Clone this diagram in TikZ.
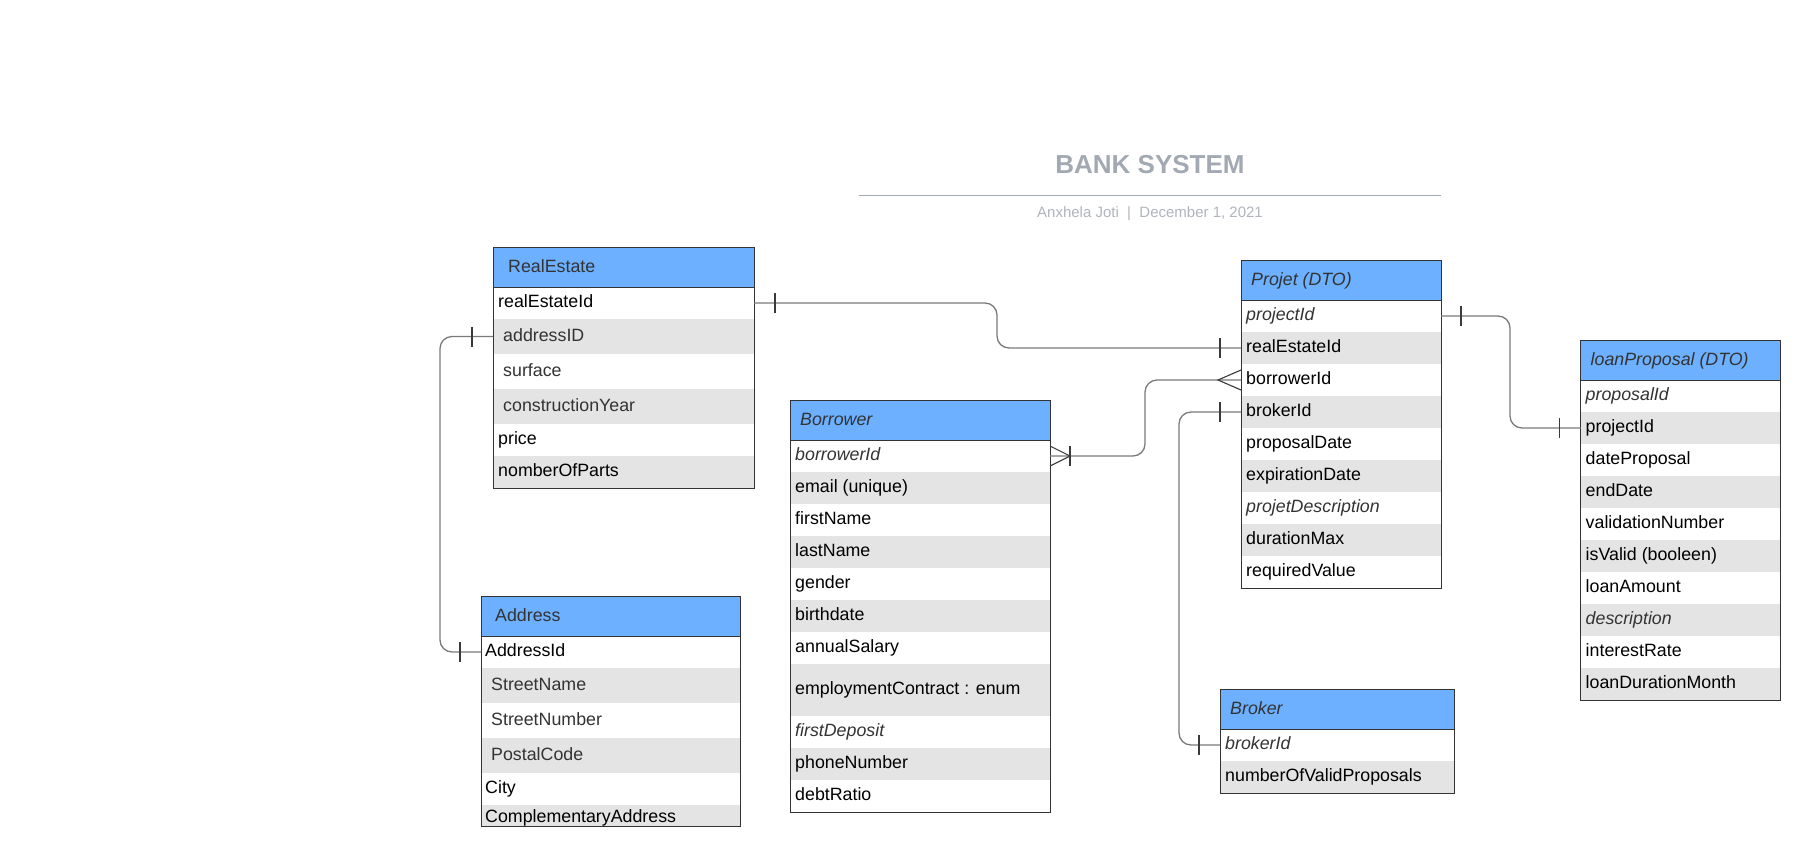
\documentclass[tikz,border=0pt]{standalone}
\usepackage{fontspec}
\setmainfont{Liberation Sans}
\usetikzlibrary{calc}
\definecolor{hdr}{HTML}{6CB0FF}
\definecolor{rowg}{HTML}{E4E4E4}
\definecolor{bord}{HTML}{333333}
\definecolor{dtxt}{HTML}{333333}
\definecolor{connc}{HTML}{7A7A7A}
\definecolor{tickc}{HTML}{3A3A3A}
\definecolor{ttl}{HTML}{A3A9B3}
\definecolor{subc}{HTML}{B0B5BD}
\newcommand\rowfont{\fontsize{17.8}{21}\selectfont}
\newcommand\erow[9]{%
  \node[#6, minimum width=#4pt, minimum height=#5pt] (#1) at (#2,#3) {};
  \node[#7] (#1t) at ([xshift=#8pt, yshift=-4.8pt]#1.west) {#9};
}
\tikzset{
  cellw/.style={draw=none, fill=white, anchor=north west, inner sep=0pt, outer sep=0pt},
  cellg/.style={cellw, fill=rowg},
  hcell/.style={anchor=north west, inner sep=0pt, outer sep=0pt, fill=hdr, draw=none, minimum height=40pt},
  rtxt/.style={anchor=base west, inner sep=0pt, font=\rowfont, text=black},
  gtxt/.style={rtxt, text=dtxt},
  itxt/.style={rtxt, text=dtxt, font=\rowfont\itshape},
  htxt/.style={anchor=base west, inner sep=0pt, font=\rowfont, text=dtxt},
  hitxt/.style={htxt, font=\rowfont\itshape},
  tbox/.style={draw=bord, line width=1pt},
  connector/.style={draw=connc, line width=1.3pt, rounded corners=12pt},
  tickmark/.style={draw=tickc, line width=1.1pt},
}
\begin{document}
\begin{tikzpicture}[x=1pt, y=-1pt]
\fill[white] (0,0) rectangle (1820,865);
\useasboundingbox (0,0) rectangle (1820,865);

% ---------- title ----------
\node[anchor=base, inner sep=0pt, font=\fontsize{26}{30}\selectfont\bfseries, text=ttl] (title) at (1150,173.3) {BANK SYSTEM};
\coordinate (rl) at (859,195.7);
\coordinate (rr) at (1441,195.7);
\draw[ttl, line width=1.5pt] (rl) -- (rr);
\node[anchor=base, inner sep=0pt, font=\fontsize{15}{18}\selectfont, text=subc] (subt) at (1150,217.3) {Anxhela Joti~~|~~December 1, 2021};

% ---------- RealEstate ----------
\node[hcell, minimum width=261pt] (reh) at (493,247) {};
\node[htxt] (reht) at ([xshift=15pt, yshift=-5.5pt]reh.west) {RealEstate};
\erow{re1}{493}{287}{261}{32}{cellw}{rtxt}{5}{realEstateId}
\erow{re2}{493}{319}{261}{35}{cellg}{gtxt}{10}{addressID}
\erow{re3}{493}{354}{261}{35}{cellw}{gtxt}{10}{surface}
\erow{re4}{493}{389}{261}{35}{cellg}{gtxt}{10}{constructionYear}
\erow{re5}{493}{424}{261}{32}{cellw}{rtxt}{5}{price}
\erow{re6}{493}{456}{261}{32}{cellg}{rtxt}{5}{nomberOfParts}
\draw[tbox] (reh.south west) -- (reh.south east);
\draw[tbox] (reh.north west) rectangle (re6.south east);

% ---------- Address ----------
\node[hcell, minimum width=259pt] (adh) at (481,596) {};
\node[htxt] (adht) at ([xshift=14pt, yshift=-5.5pt]adh.west) {Address};
\erow{ad1}{481}{636}{259}{32}{cellw}{rtxt}{4}{AddressId}
\erow{ad2}{481}{668}{259}{35}{cellg}{gtxt}{10}{StreetName}
\erow{ad3}{481}{703}{259}{35}{cellw}{gtxt}{10}{StreetNumber}
\erow{ad4}{481}{738}{259}{35}{cellg}{gtxt}{10}{PostalCode}
\erow{ad5}{481}{773}{259}{32}{cellw}{rtxt}{4}{City}
\erow{ad6}{481}{805}{259}{21}{cellg}{rtxt, yshift=-2pt}{4}{ComplementaryAddress}
\draw[tbox] (adh.south west) -- (adh.south east);
\draw[tbox] (adh.north west) rectangle (ad6.south east);

% ---------- Borrower ----------
\node[hcell, minimum width=260pt] (boh) at (790,400) {};
\node[hitxt] (boht) at ([xshift=10pt, yshift=-5.5pt]boh.west) {Borrower};
\erow{bo1}{790}{440}{260}{32}{cellw}{itxt}{5}{borrowerId}
\erow{bo2}{790}{472}{260}{32}{cellg}{rtxt}{5}{email (unique)}
\erow{bo3}{790}{504}{260}{32}{cellw}{rtxt}{5}{firstName}
\erow{bo4}{790}{536}{260}{32}{cellg}{rtxt}{5}{lastName}
\erow{bo5}{790}{568}{260}{32}{cellw}{rtxt}{5}{gender}
\erow{bo6}{790}{600}{260}{32}{cellg}{rtxt}{5}{birthdate}
\erow{bo7}{790}{632}{260}{32}{cellw}{rtxt}{5}{annualSalary}
\erow{bo8}{790}{664}{260}{52}{cellg}{rtxt}{5}{employmentContract : enum}
\erow{bo9}{790}{716}{260}{32}{cellw}{itxt}{5}{firstDeposit}
\erow{bo10}{790}{748}{260}{32}{cellg}{rtxt}{5}{phoneNumber}
\erow{bo11}{790}{780}{260}{32}{cellw}{rtxt}{5}{debtRatio}
\draw[tbox] (boh.south west) -- (boh.south east);
\draw[tbox] (boh.north west) rectangle (bo11.south east);

% ---------- Projet (DTO) ----------
\node[hcell, minimum width=200pt] (pjh) at (1241,260) {};
\node[hitxt] (pjht) at ([xshift=10pt, yshift=-5.5pt]pjh.west) {Projet (DTO)};
\erow{pj1}{1241}{300}{200}{32}{cellw}{itxt}{5}{projectId}
\erow{pj2}{1241}{332}{200}{32}{cellg}{rtxt}{5}{realEstateId}
\erow{pj3}{1241}{364}{200}{32}{cellw}{rtxt}{5}{borrowerId}
\erow{pj4}{1241}{396}{200}{32}{cellg}{rtxt}{5}{brokerId}
\erow{pj5}{1241}{428}{200}{32}{cellw}{rtxt}{5}{proposalDate}
\erow{pj6}{1241}{460}{200}{32}{cellg}{rtxt}{5}{expirationDate}
\erow{pj7}{1241}{492}{200}{32}{cellw}{itxt}{5}{projetDescription}
\erow{pj8}{1241}{524}{200}{32}{cellg}{rtxt}{5}{durationMax}
\erow{pj9}{1241}{556}{200}{32}{cellw}{rtxt}{5}{requiredValue}
\draw[tbox] (pjh.south west) -- (pjh.south east);
\draw[tbox] (pjh.north west) rectangle (pj9.south east);

% ---------- loanProposal (DTO) ----------
\node[hcell, minimum width=200pt] (lph) at (1580.5,340) {};
\node[hitxt] (lpht) at ([xshift=10pt, yshift=-5.5pt]lph.west) {loanProposal (DTO)};
\erow{lp1}{1580.5}{380}{200}{32}{cellw}{itxt}{5}{proposalId}
\erow{lp2}{1580.5}{412}{200}{32}{cellg}{rtxt}{5}{projectId}
\erow{lp3}{1580.5}{444}{200}{32}{cellw}{rtxt}{5}{dateProposal}
\erow{lp4}{1580.5}{476}{200}{32}{cellg}{rtxt}{5}{endDate}
\erow{lp5}{1580.5}{508}{200}{32}{cellw}{rtxt}{5}{validationNumber}
\erow{lp6}{1580.5}{540}{200}{32}{cellg}{rtxt}{5}{isValid (booleen)}
\erow{lp7}{1580.5}{572}{200}{32}{cellw}{rtxt}{5}{loanAmount}
\erow{lp8}{1580.5}{604}{200}{32}{cellg}{itxt}{5}{description}
\erow{lp9}{1580.5}{636}{200}{32}{cellw}{rtxt}{5}{interestRate}
\erow{lp10}{1580.5}{668}{200}{32}{cellg}{rtxt}{5}{loanDurationMonth}
\draw[tbox] (lph.south west) -- (lph.south east);
\draw[tbox] (lph.north west) rectangle (lp10.south east);

% ---------- Broker ----------
\node[hcell, minimum width=234pt] (bkh) at (1220,689) {};
\node[hitxt] (bkht) at ([xshift=10pt, yshift=-5.5pt]bkh.west) {Broker};
\erow{bk1}{1220}{729}{234}{32}{cellw}{itxt}{5}{brokerId}
\erow{bk2}{1220}{761}{234}{32}{cellg}{rtxt}{5}{numberOfValidProposals}
\draw[tbox] (bkh.south west) -- (bkh.south east);
\draw[tbox] (bkh.north west) rectangle (bk2.south east);

% ---------- connectors ----------
% RealEstate.realEstateId -- Projet.realEstateId
\coordinate (v1) at (997,320);
\draw[connector] (re1.east) -- (re1.east -| v1) -- (pj2.west -| v1) -- (pj2.west);
\draw[tickmark] ($(re1.east)+(21,-10)$) -- ++(0,20);
\draw[tickmark] ($(pj2.west)+(-21,-10)$) -- ++(0,20);

% Projet.projectId -- loanProposal.projectId
\coordinate (v2) at (1510,400);
\draw[connector] (pj1.east) -- (pj1.east -| v2) -- (lp2.west -| v2) -- (lp2.west);
\draw[tickmark] ($(pj1.east)+(20,-10)$) -- ++(0,20);
\draw[tickmark] ($(lp2.west)+(-21,-10)$) -- ++(0,20);

% Borrower.borrowerId -- Projet.borrowerId
\coordinate (v3) at (1145,420);
\draw[connector] (bo1.east) -- (bo1.east -| v3) -- (pj3.west -| v3) -- (pj3.west);
\draw[tickmark] ($(bo1.east)+(0,-10)$) -- ($(bo1.east)+(20,0)$) -- ($(bo1.east)+(0,10)$);
\draw[tickmark] ($(bo1.east)+(20,-10)$) -- ++(0,20);
\draw[tickmark] ($(pj3.west)+(0,-10)$) -- ($(pj3.west)+(-23,0)$) -- ($(pj3.west)+(0,10)$);

% Projet.brokerId -- Broker.brokerId
\coordinate (v4) at (1179,600);
\draw[connector] (pj4.west) -- (pj4.west -| v4) -- (bk1.west -| v4) -- (bk1.west);
\draw[tickmark] ($(pj4.west)+(-21,-10)$) -- ++(0,20);
\draw[tickmark] ($(bk1.west)+(-21,-10)$) -- ++(0,20);

% RealEstate.addressID -- Address.AddressId
\coordinate (v5) at (440,500);
\draw[connector] (re2.west) -- (re2.west -| v5) -- (ad1.west -| v5) -- (ad1.west);
\draw[tickmark] ($(re2.west)+(-21,-10)$) -- ++(0,20);
\draw[tickmark] ($(ad1.west)+(-21,-10)$) -- ++(0,20);
\end{tikzpicture}
\end{document}
